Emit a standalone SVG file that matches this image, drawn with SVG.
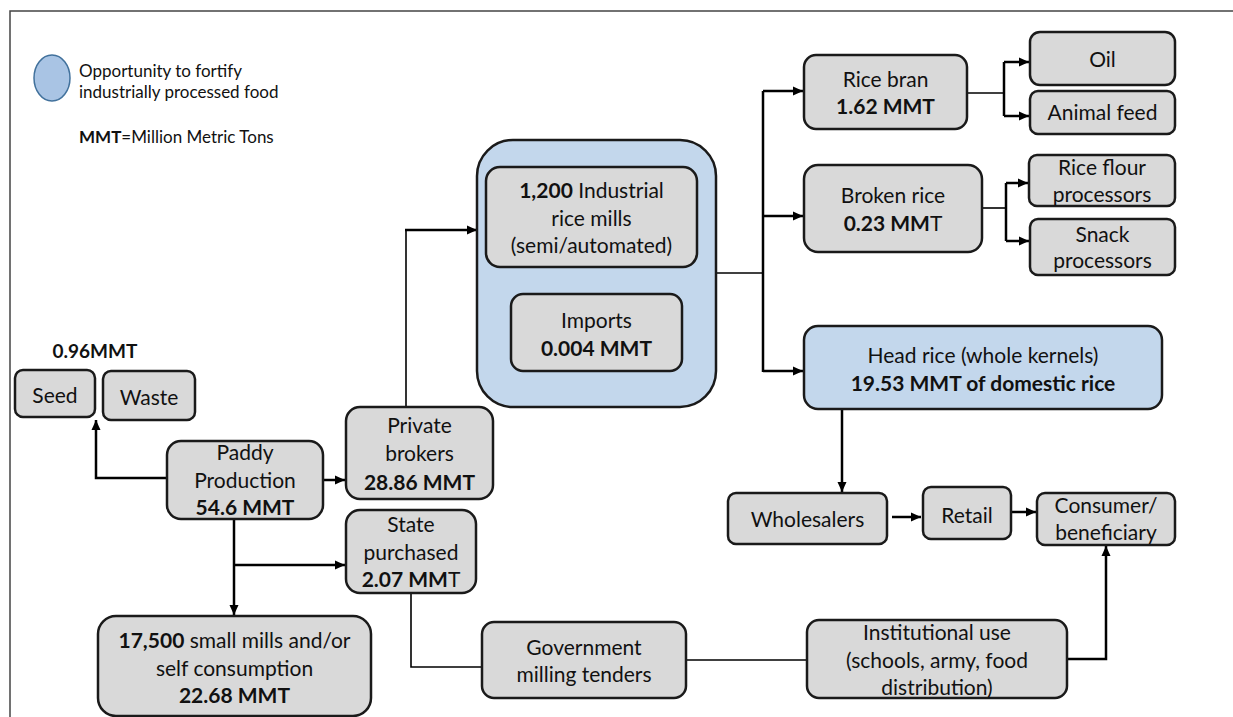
<svg xmlns="http://www.w3.org/2000/svg" width="1233" height="717" viewBox="0 0 1233 717">
<style>
text{font-family:Lato,"Open Sans","Liberation Sans",sans-serif;fill:#111;font-size:21px;text-anchor:middle}
.b{font-weight:bold}
.n{fill:#d9d9d9;stroke:#1a1a1a;stroke-width:2.5}
.bl{fill:#c3d7ec;stroke:#1a1a1a;stroke-width:2.5}
.c{fill:none;stroke:#000;stroke-width:2.5}
.t{fill:none;stroke:#000;stroke-width:1.6}
.lg{font-size:17px;text-anchor:start}
</style>
<defs>
<marker id="ah" markerUnits="userSpaceOnUse" markerWidth="11" markerHeight="11" viewBox="0 0 11 11" refX="10" refY="5.5" orient="auto">
<path d="M0,1 L10,5.5 L0,10 z" fill="#000"/>
</marker>
</defs>
<rect width="1233" height="717" fill="#fff"/>
<path d="M10,717 V11 H1233" fill="none" stroke="#444" stroke-width="1.5"/>
<g id="legend">
<ellipse cx="52" cy="78" rx="18" ry="23" fill="#a9c4e4" stroke="#41719c" stroke-width="1.5"/>
<text class="lg" x="79" y="77">Opportunity to fortify</text>
<text class="lg" x="79" y="98">industrially processed food</text>
<text class="lg" x="79" y="143"><tspan class="b">MMT</tspan>=Million Metric Tons</text>
</g>
<g id="connectors">
<path class="c" d="M167,478 H96 V420" marker-end="url(#ah)"/>
<path class="c" d="M323,480 H345" marker-end="url(#ah)"/>
<path class="c" d="M234,519 V615" marker-end="url(#ah)"/>
<path class="c" d="M234,565 H345" marker-end="url(#ah)"/>
<path class="t" d="M406,407 V230"/>
<path class="c" d="M405,230 H477" marker-end="url(#ah)"/>
<path class="t" d="M716,273 H763"/>
<path class="c" d="M763,91 V372"/>
<path class="c" d="M763,91 H803" marker-end="url(#ah)"/>
<path class="c" d="M763,216 H803" marker-end="url(#ah)"/>
<path class="c" d="M763,371 H803" marker-end="url(#ah)"/>
<path class="t" d="M967,93 H1004"/>
<path class="c" d="M1004,62 V116"/>
<path class="c" d="M1004,62 H1029" marker-end="url(#ah)"/>
<path class="c" d="M1004,116 H1029" marker-end="url(#ah)"/>
<path class="t" d="M982,208 H1006"/>
<path class="c" d="M1006,183 V241"/>
<path class="c" d="M1006,183 H1028" marker-end="url(#ah)"/>
<path class="c" d="M1006,241 H1029" marker-end="url(#ah)"/>
<path class="c" d="M842,409 V492" marker-end="url(#ah)"/>
<path class="c" d="M892,517 H921" marker-end="url(#ah)"/>
<path class="c" d="M1011,512 H1036" marker-end="url(#ah)"/>
<path class="t" d="M411,593 V667 H482"/>
<path class="t" d="M686,660 H807"/>
<path class="c" d="M1067,659 H1106 V546" marker-end="url(#ah)"/>
</g>
<g id="seed">
<rect class="n" x="15" y="370" width="80" height="47" rx="8"/>
<text x="55" y="403">Seed</text>
</g>
<g id="waste">
<rect class="n" x="103" y="371" width="92" height="49" rx="8"/>
<text x="149" y="405">Waste</text>
</g>
<g id="seedwaste-label">
<text class="b" x="95" y="358" style="font-size:19px">0.96MMT</text>
</g>
<g id="paddy">
<rect class="n" x="167" y="441" width="156" height="78" rx="14"/>
<text x="245" y="460">Paddy</text>
<text x="245" y="488">Production</text>
<text class="b" x="245" y="515">54.6 MMT</text>
</g>
<g id="private">
<rect class="n" x="346" y="407" width="147" height="92" rx="14"/>
<text x="419.5" y="433">Private</text>
<text x="419.5" y="461">brokers</text>
<text class="b" x="419.5" y="490">28.86 MMT</text>
</g>
<g id="state">
<rect class="n" x="346" y="510" width="130" height="83" rx="14"/>
<text x="411" y="532">State</text>
<text x="411" y="560">purchased</text>
<text x="411" y="587"><tspan class="b">2.07 MM</tspan>T</text>
</g>
<g id="smallmills">
<rect class="n" x="98" y="616" width="273" height="100" rx="18"/>
<text x="234.5" y="648"><tspan class="b">17,500</tspan> small mills and/or</text>
<text x="234.5" y="676">self consumption</text>
<text class="b" x="234.5" y="703">22.68 MMT</text>
</g>
<g id="industrial-group">
<rect class="bl" x="477" y="140" width="239" height="267" rx="36"/>
</g>
<g id="industrial">
<rect class="n" x="486" y="167" width="211" height="100" rx="14"/>
<text x="591.5" y="198"><tspan class="b">1,200</tspan> Industrial</text>
<text x="591.5" y="226">rice mills</text>
<text x="591.5" y="253">(semi/automated)</text>
</g>
<g id="imports">
<rect class="n" x="511" y="294" width="171" height="77" rx="12"/>
<text x="596.5" y="328">Imports</text>
<text class="b" x="596.5" y="356">0.004 MMT</text>
</g>
<g id="ricebran">
<rect class="n" x="804" y="55" width="163" height="74" rx="12"/>
<text x="885.5" y="87">Rice bran</text>
<text class="b" x="885.5" y="114">1.62 MMT</text>
</g>
<g id="broken">
<rect class="n" x="804" y="165" width="178" height="87" rx="14"/>
<text x="893" y="203">Broken rice</text>
<text x="893" y="231"><tspan class="b">0.23 MM</tspan>T</text>
</g>
<g id="oil">
<rect class="n" x="1030" y="32" width="145" height="53" rx="10"/>
<text x="1102.5" y="67">Oil</text>
</g>
<g id="animalfeed">
<rect class="n" x="1030" y="91" width="145" height="43" rx="8"/>
<text x="1102.5" y="120">Animal feed</text>
</g>
<g id="riceflour">
<rect class="n" x="1029" y="155" width="146" height="51" rx="8"/>
<text x="1102" y="175">Rice flour</text>
<text x="1102" y="202">processors</text>
</g>
<g id="snack">
<rect class="n" x="1030" y="219" width="145" height="56" rx="8"/>
<text x="1102.5" y="242">Snack</text>
<text x="1102.5" y="268">processors</text>
</g>
<g id="headrice">
<rect class="bl" x="804" y="326" width="358" height="83" rx="14"/>
<text x="983" y="363">Head rice (whole kernels)</text>
<text class="b" x="983" y="391">19.53 MMT of domestic rice</text>
</g>
<g id="wholesalers">
<rect class="n" x="728" y="493" width="159" height="51" rx="8"/>
<text x="807.5" y="527">Wholesalers</text>
</g>
<g id="retail">
<rect class="n" x="923" y="487" width="88" height="52" rx="8"/>
<text x="967" y="523">Retail</text>
</g>
<g id="consumer">
<rect class="n" x="1037" y="493" width="138" height="52" rx="8"/>
<text x="1106" y="513">Consumer/</text>
<text x="1106" y="540">beneficiary</text>
</g>
<g id="government">
<rect class="n" x="482" y="622" width="204" height="76" rx="12"/>
<text x="584" y="655">Government</text>
<text x="584" y="682">milling tenders</text>
</g>
<g id="institutional">
<rect class="n" x="807" y="620" width="260" height="78" rx="12"/>
<text x="937" y="640">Institutional use</text>
<text x="937" y="668">(schools, army, food</text>
<text x="937" y="695">distribution)</text>
</g>
</svg>
